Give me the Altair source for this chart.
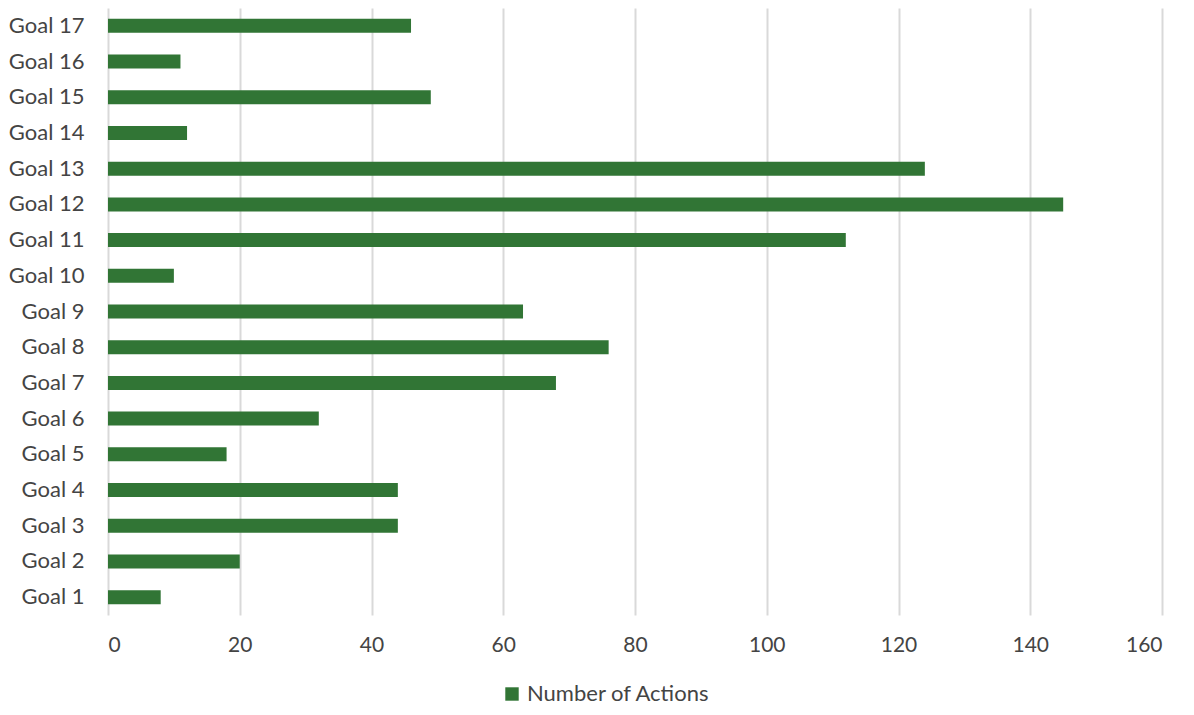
import altair as alt
import pandas as pd

goals = [f"Goal {i}" for i in range(1, 18)]
actions = [8, 20, 44, 44, 18, 32, 68, 76, 63, 10, 112, 145, 124, 12, 49, 11, 46]
series = "Number of Actions"
x_ticks = [0, 20, 40, 60, 80, 100, 120, 140, 160]

df = pd.DataFrame({"goal": goals, "actions": actions, "series": [series] * len(goals)})

font = "Lato"
chart = alt.Chart(df).mark_bar(size=14).encode(
    x=alt.X("actions:Q", scale=alt.Scale(domain=[0, 160], nice=False),
            axis=alt.Axis(values=x_ticks, title=None, domain=False, ticks=False,
                          grid=True, gridColor="#d9d9d9", gridWidth=2,
                          labelFontSize=21, labelColor="#444444", labelFont=font,
                          labelPadding=19)),
    y=alt.Y("goal:N", sort=goals[::-1],
            axis=alt.Axis(title=None, domain=False, ticks=False, labelFontSize=22,
                          labelColor="#444444", labelFont=font, labelPadding=24)),
    color=alt.Color("series:N", scale=alt.Scale(range=["#317535"]),
                    legend=alt.Legend(title=None, orient="none", legendX=393, legendY=675,
                                      symbolType="square", symbolSize=180,
                                      labelFontSize=22, labelColor="#444444",
                                      labelFont=font, labelLimit=400,
                                      symbolStrokeWidth=0)),
).properties(
    width=1054, height=607,
    autosize=alt.AutoSizeParams(type="none"),
    padding={"left": 100, "top": 0, "right": 10, "bottom": 92},
).configure_view(stroke=None)

chart.save("out.html", embed_options={"renderer": "svg", "actions": False})
